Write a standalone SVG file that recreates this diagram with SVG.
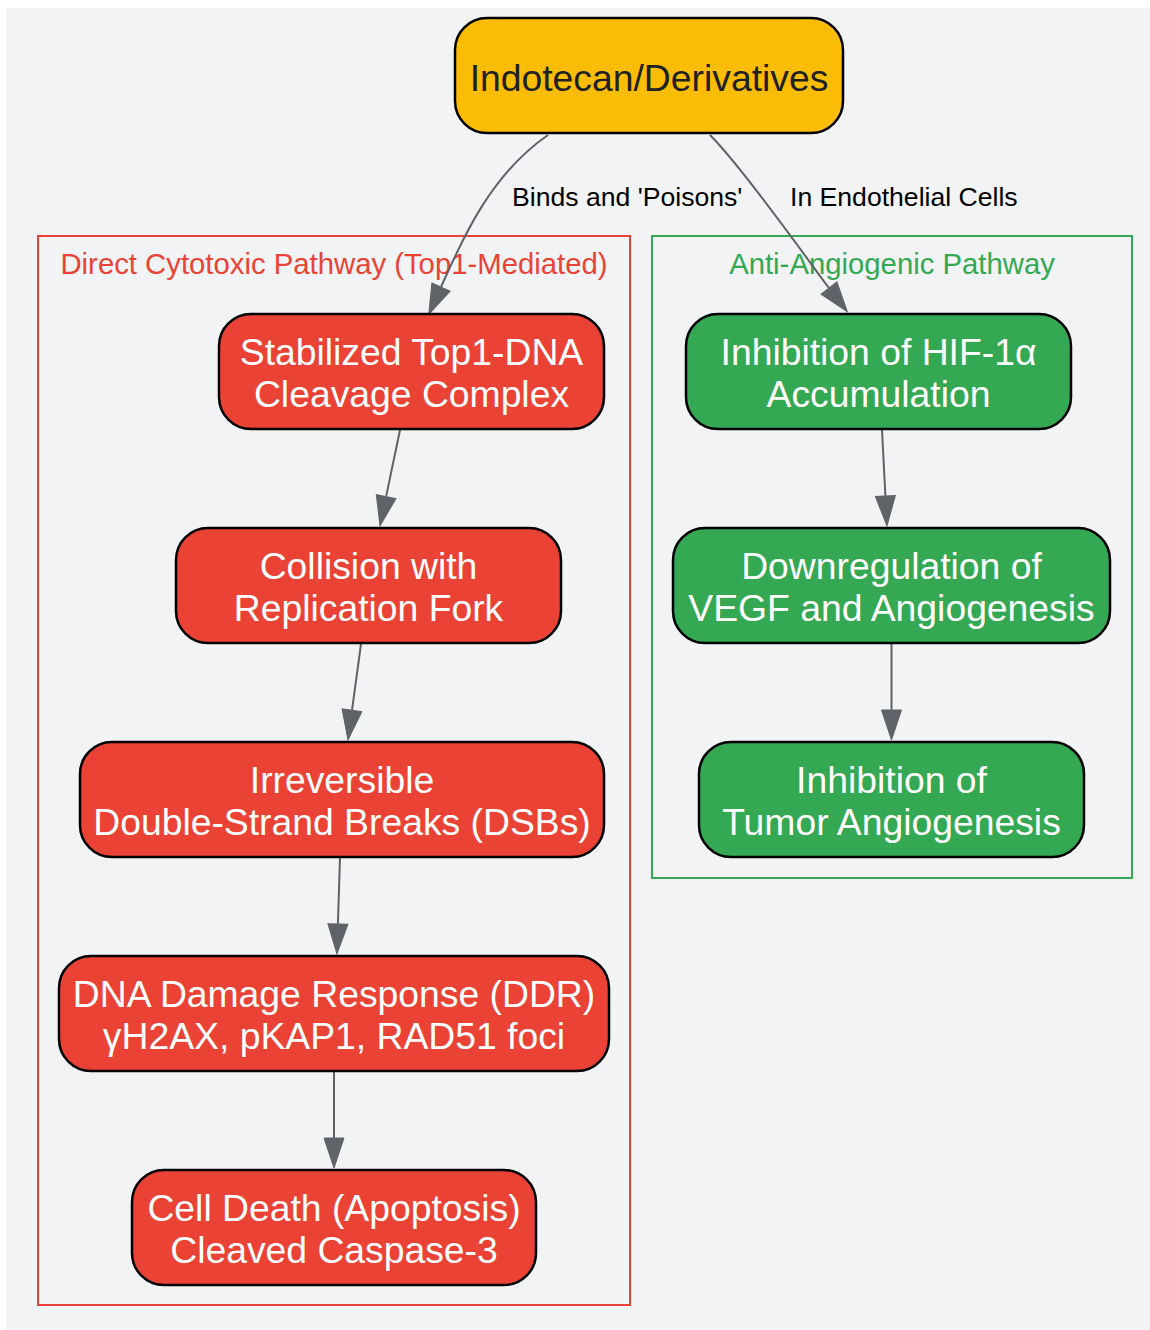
<svg xmlns="http://www.w3.org/2000/svg" width="1150" height="1330" viewBox="0 0 1150 1330">
  <defs>
    <marker id="arrow" markerUnits="userSpaceOnUse" markerWidth="30" markerHeight="20" refX="0" refY="10" orient="auto" overflow="visible">
      <path d="M0,0 L30,10 L0,20 z" fill="#5f6368" stroke="#5f6368" stroke-width="1"/>
    </marker>
    <style>
      text { font-family: "Liberation Sans", Arial, sans-serif; text-anchor: middle; }
      .node { stroke: #000; stroke-width: 2.5; }
      .red { fill: #ea4335; }
      .green { fill: #34a853; }
      .yellow { fill: #fbbc04; }
      .nt { font-size: 37.3px; fill: #ffffff; }
      .nt-dark { font-size: 37.3px; fill: #202124; }
      .edge { fill: none; stroke: #5f6368; stroke-width: 2; marker-end: url(#arrow); }
      .el { font-size: 26.6px; fill: #000; text-anchor: start; }
      .cl { font-size: 29.3px; }
    </style>
  </defs>

  <rect x="6" y="8" width="1144" height="1322" fill="#f1f3f4"/>

  <g id="cluster-cytotoxic">
    <rect x="38" y="236" width="592" height="1069" fill="none" stroke="#ea4335" stroke-width="2"/>
    <text class="cl" x="334" y="274" fill="#ea4335">Direct Cytotoxic Pathway (Top1-Mediated)</text>
  </g>
  <g id="cluster-angio">
    <rect x="652" y="236" width="480" height="642" fill="none" stroke="#34a853" stroke-width="2"/>
    <text class="cl" x="892" y="274" fill="#34a853">Anti-Angiogenic Pathway</text>
  </g>

  <g id="connectors">
    <path class="edge" d="M548,135 C490,175 462,240 441,287"/>
    <path class="edge" d="M710,135 C745,170 812,266 829,288"/>
    <path class="edge" d="M400,430 L386.1,496.6"/>
    <path class="edge" d="M361,644 L352,710.3"/>
    <path class="edge" d="M340,858 L337.9,924"/>
    <path class="edge" d="M334,1072 L334,1138"/>
    <path class="edge" d="M882,430 L885.4,496"/>
    <path class="edge" d="M891.5,644 L891.5,710"/>
    <text class="el" x="512" y="206">Binds and 'Poisons'</text>
    <text class="el" x="790" y="206">In Endothelial Cells</text>
  </g>

  <g id="node-indotecan">
    <rect class="node yellow" x="455" y="18" width="388" height="115" rx="32"/>
    <text class="nt-dark" x="649" y="91">Indotecan/Derivatives</text>
  </g>

  <g id="node-stabilized">
    <rect class="node red" x="219" y="314" width="385" height="115" rx="32"/>
    <text class="nt" x="411.5" y="365">Stabilized Top1-DNA</text>
    <text class="nt" x="411.5" y="407">Cleavage Complex</text>
  </g>
  <g id="node-collision">
    <rect class="node red" x="176" y="528" width="385" height="115" rx="32"/>
    <text class="nt" x="368.5" y="579">Collision with</text>
    <text class="nt" x="368.5" y="621">Replication Fork</text>
  </g>
  <g id="node-dsb">
    <rect class="node red" x="80" y="742" width="524" height="115" rx="32"/>
    <text class="nt" x="342" y="793">Irreversible</text>
    <text class="nt" x="342" y="835">Double-Strand Breaks (DSBs)</text>
  </g>
  <g id="node-ddr">
    <rect class="node red" x="59" y="956" width="550" height="115" rx="32"/>
    <text class="nt" x="334" y="1007">DNA Damage Response (DDR)</text>
    <text class="nt" x="334" y="1049">γH2AX, pKAP1, RAD51 foci</text>
  </g>
  <g id="node-death">
    <rect class="node red" x="132" y="1170" width="404" height="115" rx="32"/>
    <text class="nt" x="334" y="1221">Cell Death (Apoptosis)</text>
    <text class="nt" x="334" y="1263">Cleaved Caspase-3</text>
  </g>

  <g id="node-hif">
    <rect class="node green" x="686" y="314" width="385" height="115" rx="32"/>
    <text class="nt" x="878.5" y="365">Inhibition of HIF-1α</text>
    <text class="nt" x="878.5" y="407">Accumulation</text>
  </g>
  <g id="node-vegf">
    <rect class="node green" x="673" y="528" width="437" height="115" rx="32"/>
    <text class="nt" x="891.5" y="579">Downregulation of</text>
    <text class="nt" x="891.5" y="621">VEGF and Angiogenesis</text>
  </g>
  <g id="node-tumor">
    <rect class="node green" x="699" y="742" width="385" height="115" rx="32"/>
    <text class="nt" x="891.5" y="793">Inhibition of</text>
    <text class="nt" x="891.5" y="835">Tumor Angiogenesis</text>
  </g>
</svg>
